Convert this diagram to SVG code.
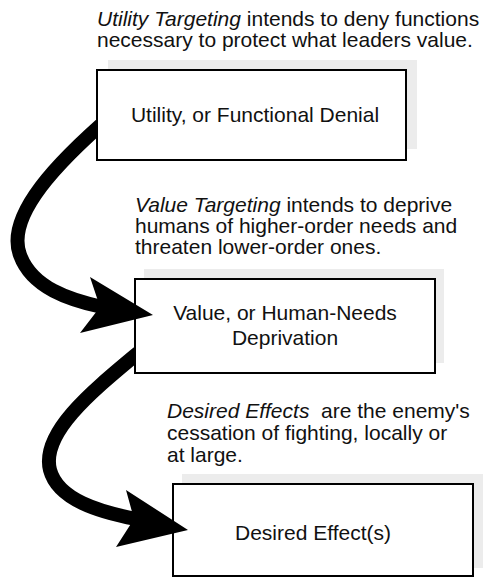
<svg xmlns="http://www.w3.org/2000/svg" width="483" height="578" viewBox="0 0 483 578">
  <style>
    .txt { font-family: "Liberation Sans", Arial, Helvetica, sans-serif; font-size: 21px; fill: #111; }
    .em { font-style: italic; }
    .shadow { fill: #ececec; stroke: none; }
    .box { fill: #fff; stroke: #000; stroke-width: 2; }
    .curve { fill: none; stroke: #000; stroke-width: 14; stroke-linecap: butt; }
    .head { fill: #000; stroke: none; }
  </style>
  <defs>
    <!-- hides the part of each curve that lies inside its source box -->
    <clipPath id="outside-boxes">
      <path clip-rule="evenodd" d="M0,0H483V578H0Z M98,71H405V159H98Z M136,280H434V372H136Z"/>
    </clipPath>
  </defs>
  <rect width="483" height="578" fill="#fff"/>

  <!-- captions -->
  <g id="caption-utility">
    <text class="txt" x="97" y="26"><tspan class="em">Utility Targeting</tspan> intends to deny functions</text>
    <text class="txt" x="97" y="47">necessary to protect what leaders value.</text>
  </g>
  <g id="caption-value">
    <text class="txt" x="135" y="212"><tspan class="em">Value Targeting</tspan> intends to deprive</text>
    <text class="txt" x="135" y="233">humans of higher-order needs and</text>
    <text class="txt" x="135" y="254">threaten lower-order ones.</text>
  </g>
  <g id="caption-effects">
    <text class="txt" x="167" y="418" style="white-space:pre"><tspan class="em">Desired Effects</tspan>  are the enemy's</text>
    <text class="txt" x="167" y="440">cessation of fighting, locally or</text>
    <text class="txt" x="167" y="462">at large.</text>
  </g>

  <!-- nodes -->
  <g id="node-utility">
    <rect class="shadow" x="108" y="60" width="309" height="89"/>
    <rect class="box" x="97" y="70" width="309" height="90"/>
    <text class="txt" x="255" y="122" text-anchor="middle">Utility, or Functional Denial</text>
  </g>
  <g id="node-value">
    <rect class="shadow" x="144" y="269" width="300" height="94"/>
    <rect class="box" x="135" y="279" width="300" height="94"/>
    <text class="txt" x="285" y="320" text-anchor="middle">Value, or Human-Needs</text>
    <text class="txt" x="285" y="345" text-anchor="middle">Deprivation</text>
  </g>
  <g id="node-effects">
    <rect class="shadow" x="182" y="474" width="303" height="94"/>
    <rect class="box" x="173" y="484" width="300" height="92"/>
    <text class="txt" x="235" y="540">Desired Effect(s)</text>
  </g>

  <!-- connectors: thick curved arrows whose heads overlap the target box edge -->
  <g id="connectors">
    <path class="curve" clip-path="url(#outside-boxes)" d="M 112,115 C 60,160 5,215 20,255 C 32,288 70,300 102,307"/>
    <polygon class="head" points="153,315 90,277 100,307 80,333"/>
    <path class="curve" clip-path="url(#outside-boxes)" d="M 150,343 C 100,385 40,430 50,470 C 58,500 100,512 136,519"/>
    <polygon class="head" points="188,530 126,490 134,519 116,547"/>
  </g>
</svg>
